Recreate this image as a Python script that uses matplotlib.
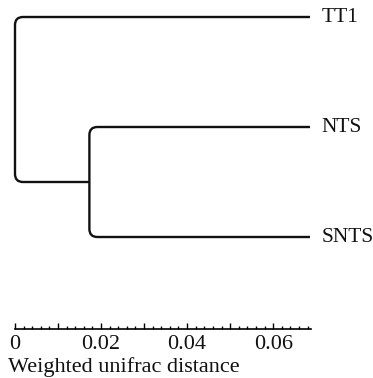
import numpy as np
import matplotlib.pyplot as plt
from matplotlib.path import Path
from matplotlib.patches import PathPatch
from matplotlib.ticker import MultipleLocator, FuncFormatter

# leaves, top to bottom
leaf_names = ["TT1", "NTS", "SNTS"]
leaf_rows = [0, 1, 2]
# distance of the leaf tips and internal nodes from the root
leaf_dist = [0.0686, 0.0686, 0.0686]
root_dist = 0.0
inner_dist = 0.0173   # node joining NTS and SNTS
scale_max = 0.0688

plt.rcParams["font.family"] = ["Liberation Serif", "DejaVu Serif"]

fig = plt.figure(figsize=(3.73, 3.78), dpi=100)
ax = fig.add_axes([0, 0, 1, 1])
ax.set_xlim(-15 / 4300, 358 / 4300)
ax.set_ylim(361 / 110, -17 / 110)
ax.axis("off")

# corner radius in data units (about 8 px each way)
rx, ry = 8 / 4300, 8 / 110


def elbow_path(points):
    """Polyline through points with rounded interior corners."""
    verts = [points[0]]
    codes = [Path.MOVETO]
    for i in range(1, len(points) - 1):
        p0, p1, p2 = map(np.array, points[i - 1:i + 2])
        d_in = np.sign(p1 - p0)
        d_out = np.sign(p2 - p1)
        r = np.array([rx, ry])
        a = p1 - d_in * r
        b = p1 + d_out * r
        verts += [tuple(a), tuple(p1), tuple(b)]
        codes += [Path.LINETO, Path.CURVE3, Path.CURVE3]
    verts.append(points[-1])
    codes.append(Path.LINETO)
    return Path(verts, codes)


inner_row = (leaf_rows[1] + leaf_rows[2]) / 2
branches = [
    [(leaf_dist[0], leaf_rows[0]), (root_dist, leaf_rows[0]),
     (root_dist, inner_row), (inner_dist, inner_row)],
    [(leaf_dist[1], leaf_rows[1]), (inner_dist, leaf_rows[1]),
     (inner_dist, leaf_rows[2]), (leaf_dist[2], leaf_rows[2])],
]
for pts in branches:
    ax.add_patch(PathPatch(elbow_path(pts), fill=False, lw=1.7,
                           edgecolor="#111111", capstyle="butt",
                           joinstyle="round"))

for name, row, dist in zip(leaf_names, leaf_rows, leaf_dist):
    ax.annotate(name, (dist, row), xytext=(8.5, 0), textcoords="offset points",
                ha="left", va="center", fontsize=15.5, color="#111111")

# distance scale bar
sax = fig.add_axes([15 / 373, (378 - 329) / 378, 296 / 373, 0.02])
sax.set_xlim(0, scale_max)
sax.patch.set_alpha(0)
for side in ("top", "left", "right"):
    sax.spines[side].set_visible(False)
sax.spines["bottom"].set_linewidth(1.2)
sax.set_yticks([])
sax.xaxis.set_major_locator(MultipleLocator(0.01))
sax.xaxis.set_minor_locator(MultipleLocator(0.002))
sax.xaxis.set_major_formatter(FuncFormatter(
    lambda v, _: ("0" if abs(v) < 1e-9 else f"{v:.2f}") if round(v / 0.01) % 2 == 0 else ""))
sax.tick_params(axis="x", which="major", direction="in", length=4.5, width=1,
                pad=4, labelsize=16, labelcolor="#111111")
sax.tick_params(axis="x", which="minor", direction="in", length=2.2, width=1)
sax.set_xlabel("Weighted unifrac distance", fontsize=16, ha="left", va="center",
               color="#111111")
sax.xaxis.set_label_coords(8 / 373, 11 / 378, transform=fig.transFigure)

fig.savefig("out.png", dpi=100)
